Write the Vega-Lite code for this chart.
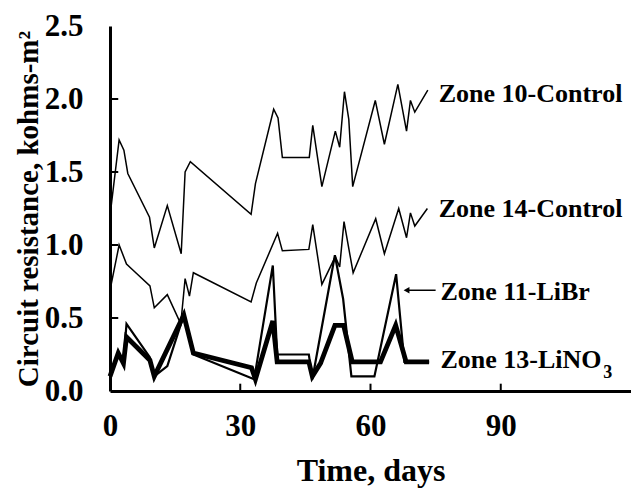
{
  "$schema": "https://vega.github.io/schema/vega-lite/v6.json",
  "autosize": "none",
  "padding": {"left": 110, "top": 26, "right": 0, "bottom": 97},
  "width": 521,
  "height": 365,
  "background": "white",
  "config": {
    "view": {"stroke": null},
    "font": "Liberation Serif",
    "axis": {"grid": false, "ticks": false, "domainColor": "black", "domainWidth": 3, "labelColor": "black", "titleColor": "black", "labelFont": "Liberation Serif", "titleFont": "Liberation Serif", "labelFontWeight": "bold", "titleFontWeight": "bold"}
  },
  "datasets": {
    "lines": [
      {"series": "Zone 10", "day": 0, "value": 1.2},
      {"series": "Zone 10", "day": 2.1, "value": 1.72},
      {"series": "Zone 10", "day": 3.2, "value": 1.65},
      {"series": "Zone 10", "day": 4.1, "value": 1.49},
      {"series": "Zone 10", "day": 9.1, "value": 1.19},
      {"series": "Zone 10", "day": 10.2, "value": 0.98},
      {"series": "Zone 10", "day": 13.2, "value": 1.27},
      {"series": "Zone 10", "day": 16.4, "value": 0.94},
      {"series": "Zone 10", "day": 17.3, "value": 1.5},
      {"series": "Zone 10", "day": 18.5, "value": 1.57},
      {"series": "Zone 10", "day": 32.5, "value": 1.21},
      {"series": "Zone 10", "day": 33.5, "value": 1.42},
      {"series": "Zone 10", "day": 37.7, "value": 1.93},
      {"series": "Zone 10", "day": 38.7, "value": 1.87},
      {"series": "Zone 10", "day": 39.7, "value": 1.6},
      {"series": "Zone 10", "day": 45.9, "value": 1.6},
      {"series": "Zone 10", "day": 46.7, "value": 1.82},
      {"series": "Zone 10", "day": 48.8, "value": 1.4},
      {"series": "Zone 10", "day": 51.9, "value": 1.78},
      {"series": "Zone 10", "day": 52.9, "value": 1.67},
      {"series": "Zone 10", "day": 54.0, "value": 2.05},
      {"series": "Zone 10", "day": 55.0, "value": 1.86},
      {"series": "Zone 10", "day": 55.9, "value": 1.4},
      {"series": "Zone 10", "day": 61.1, "value": 1.99},
      {"series": "Zone 10", "day": 63.2, "value": 1.69},
      {"series": "Zone 10", "day": 66.3, "value": 2.1},
      {"series": "Zone 10", "day": 68.3, "value": 1.78},
      {"series": "Zone 10", "day": 69.2, "value": 1.99},
      {"series": "Zone 10", "day": 70.2, "value": 1.91},
      {"series": "Zone 10", "day": 73.2, "value": 2.06},

      {"series": "Zone 14", "day": 0, "value": 0.69},
      {"series": "Zone 14", "day": 2.1, "value": 1.0},
      {"series": "Zone 14", "day": 3.8, "value": 0.87},
      {"series": "Zone 14", "day": 5.2, "value": 0.83},
      {"series": "Zone 14", "day": 9.2, "value": 0.72},
      {"series": "Zone 14", "day": 10.2, "value": 0.57},
      {"series": "Zone 14", "day": 13.2, "value": 0.66},
      {"series": "Zone 14", "day": 16.3, "value": 0.46},
      {"series": "Zone 14", "day": 17.3, "value": 0.77},
      {"series": "Zone 14", "day": 18.3, "value": 0.65},
      {"series": "Zone 14", "day": 19.2, "value": 0.81},
      {"series": "Zone 14", "day": 32.5, "value": 0.61},
      {"series": "Zone 14", "day": 33.7, "value": 0.74},
      {"series": "Zone 14", "day": 38.6, "value": 1.08},
      {"series": "Zone 14", "day": 39.7, "value": 0.96},
      {"series": "Zone 14", "day": 45.8, "value": 0.97},
      {"series": "Zone 14", "day": 46.7, "value": 1.14},
      {"series": "Zone 14", "day": 48.8, "value": 0.73},
      {"series": "Zone 14", "day": 51.9, "value": 0.92},
      {"series": "Zone 14", "day": 52.9, "value": 0.85},
      {"series": "Zone 14", "day": 53.9, "value": 1.16},
      {"series": "Zone 14", "day": 56.0, "value": 0.81},
      {"series": "Zone 14", "day": 61.2, "value": 1.18},
      {"series": "Zone 14", "day": 63.2, "value": 0.94},
      {"series": "Zone 14", "day": 66.5, "value": 1.25},
      {"series": "Zone 14", "day": 68.3, "value": 1.05},
      {"series": "Zone 14", "day": 69.2, "value": 1.22},
      {"series": "Zone 14", "day": 70.2, "value": 1.13},
      {"series": "Zone 14", "day": 73.1, "value": 1.25},

      {"series": "Zone 11", "day": 0, "value": 0.1},
      {"series": "Zone 11", "day": 1.9, "value": 0.25},
      {"series": "Zone 11", "day": 3.1, "value": 0.2},
      {"series": "Zone 11", "day": 3.8, "value": 0.46},
      {"series": "Zone 11", "day": 9.2, "value": 0.23},
      {"series": "Zone 11", "day": 10.2, "value": 0.1},
      {"series": "Zone 11", "day": 13.2, "value": 0.17},
      {"series": "Zone 11", "day": 17.0, "value": 0.52},
      {"series": "Zone 11", "day": 19.2, "value": 0.25},
      {"series": "Zone 11", "day": 33.2, "value": 0.08},
      {"series": "Zone 11", "day": 37.5, "value": 0.86},
      {"series": "Zone 11", "day": 38.5, "value": 0.25},
      {"series": "Zone 11", "day": 45.8, "value": 0.25},
      {"series": "Zone 11", "day": 46.6, "value": 0.08},
      {"series": "Zone 11", "day": 51.8, "value": 0.93},
      {"series": "Zone 11", "day": 53.7, "value": 0.63},
      {"series": "Zone 11", "day": 55.6, "value": 0.1},
      {"series": "Zone 11", "day": 60.9, "value": 0.1},
      {"series": "Zone 11", "day": 65.9, "value": 0.8},
      {"series": "Zone 11", "day": 67.8, "value": 0.2},
      {"series": "Zone 11", "day": 73.5, "value": 0.2},

      {"series": "Zone 13", "day": 0, "value": 0.1},
      {"series": "Zone 13", "day": 1.9, "value": 0.26},
      {"series": "Zone 13", "day": 3.1, "value": 0.19},
      {"series": "Zone 13", "day": 3.8, "value": 0.37},
      {"series": "Zone 13", "day": 9.2, "value": 0.21},
      {"series": "Zone 13", "day": 10.2, "value": 0.1},
      {"series": "Zone 13", "day": 17.0, "value": 0.52},
      {"series": "Zone 13", "day": 19.2, "value": 0.26},
      {"series": "Zone 13", "day": 32.6, "value": 0.16},
      {"series": "Zone 13", "day": 33.5, "value": 0.08},
      {"series": "Zone 13", "day": 37.5, "value": 0.48},
      {"series": "Zone 13", "day": 38.5, "value": 0.2},
      {"series": "Zone 13", "day": 45.8, "value": 0.2},
      {"series": "Zone 13", "day": 46.6, "value": 0.1},
      {"series": "Zone 13", "day": 48.5, "value": 0.19},
      {"series": "Zone 13", "day": 51.8, "value": 0.45},
      {"series": "Zone 13", "day": 53.8, "value": 0.45},
      {"series": "Zone 13", "day": 55.8, "value": 0.2},
      {"series": "Zone 13", "day": 62.3, "value": 0.2},
      {"series": "Zone 13", "day": 65.8, "value": 0.45},
      {"series": "Zone 13", "day": 68.2, "value": 0.2},
      {"series": "Zone 13", "day": 73.5, "value": 0.2}
    ],
    "labels": [
      {"text": "Zone 10-Control", "day": 75.7, "value": 1.98, "size": "big"},
      {"text": "Zone 14-Control", "day": 75.7, "value": 1.19, "size": "big"},
      {"text": "Zone 11-LiBr", "day": 76.1, "value": 0.62, "size": "big"},
      {"text": "Zone 13-LiNO", "day": 76.1, "value": 0.16, "size": "big"},
      {"text": "3", "day": 113.6, "value": 0.09, "size": "small"}
    ],
    "arrow": [
      {"day": 68.3, "day2": 75.0, "value": 0.69}
    ],
    "yticks": [
      {"v": 0.5}, {"v": 1.0}, {"v": 1.5}, {"v": 2.0}
    ],
    "xticks": [
      {"v": 30}, {"v": 60}, {"v": 90}
    ]
  },
  "layer": [
    {
      "data": {"name": "lines"},
      "transform": [{"filter": "datum.series === 'Zone 10' || datum.series === 'Zone 14'"}],
      "mark": {"type": "line", "color": "black", "strokeWidth": 1.5},
      "encoding": {
        "x": {"field": "day", "type": "quantitative", "scale": {"domain": [0, 120], "nice": false},
          "axis": {"values": [0, 30, 60, 90], "title": "Time, days", "titleFontSize": 32, "titlePadding": 14, "labelFontSize": 31, "labelPadding": 20, "labelFlush": false}},
        "y": {"field": "value", "type": "quantitative", "scale": {"domain": [0, 2.5], "nice": false},
          "axis": {"values": [0, 0.5, 1, 1.5, 2, 2.5], "format": ".1f", "title": "Circuit resistance, kohms-m²", "titleFontSize": 29, "titlePadding": 1, "labelFontSize": 31, "labelPadding": 27}},
        "detail": {"field": "series"}
      }
    },
    {
      "data": {"name": "lines"},
      "transform": [{"filter": "datum.series === 'Zone 11'"}],
      "mark": {"type": "line", "color": "black", "strokeWidth": 2.2},
      "encoding": {
        "x": {"field": "day", "type": "quantitative"},
        "y": {"field": "value", "type": "quantitative"}
      }
    },
    {
      "data": {"name": "lines"},
      "transform": [{"filter": "datum.series === 'Zone 13'"}],
      "mark": {"type": "line", "color": "black", "strokeWidth": 4.8},
      "encoding": {
        "x": {"field": "day", "type": "quantitative"},
        "y": {"field": "value", "type": "quantitative"}
      }
    },
    {
      "mark": {"type": "rule", "color": "black", "strokeWidth": 3},
      "encoding": {"y": {"datum": 2.5}}
    },
    {
      "data": {"name": "yticks"},
      "mark": {"type": "rule", "color": "black", "strokeWidth": 2},
      "encoding": {
        "y": {"field": "v", "type": "quantitative"},
        "x": {"datum": 0},
        "x2": {"datum": 1.9}
      }
    },
    {
      "data": {"name": "xticks"},
      "mark": {"type": "rule", "color": "black", "strokeWidth": 2},
      "encoding": {
        "x": {"field": "v", "type": "quantitative"},
        "y": {"datum": 0},
        "y2": {"datum": 0.05}
      }
    },
    {
      "data": {"name": "labels"},
      "mark": {"type": "text", "align": "left", "baseline": "alphabetic", "fontWeight": "bold", "font": "Liberation Serif", "color": "black"},
      "encoding": {
        "x": {"field": "day", "type": "quantitative"},
        "y": {"field": "value", "type": "quantitative"},
        "text": {"field": "text"},
        "size": {"field": "size", "type": "nominal", "scale": {"domain": ["big", "small"], "range": [26, 18]}, "legend": null}
      }
    },
    {
      "data": {"name": "arrow"},
      "mark": {"type": "rule", "color": "black", "strokeWidth": 1.5},
      "encoding": {
        "x": {"field": "day", "type": "quantitative"},
        "x2": {"field": "day2"},
        "y": {"field": "value", "type": "quantitative"}
      }
    },
    {
      "data": {"name": "arrow"},
      "mark": {"type": "point", "shape": "triangle-left", "filled": true, "color": "black", "size": 45, "opacity": 1},
      "encoding": {
        "x": {"field": "day", "type": "quantitative"},
        "y": {"field": "value", "type": "quantitative"}
      }
    }
  ]
}
